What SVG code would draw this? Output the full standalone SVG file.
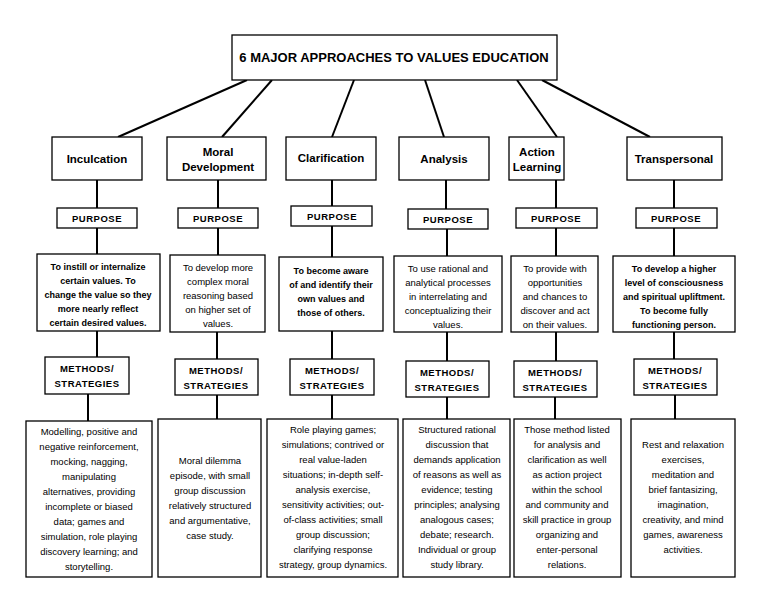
<svg xmlns="http://www.w3.org/2000/svg" width="768" height="594" viewBox="0 0 768 594">
<style>
rect{fill:#fff;stroke:#000;stroke-width:1.3}
.c line{stroke:#000;stroke-width:2}
text{font-family:"Liberation Sans",Arial,sans-serif;text-anchor:middle;fill:#000}
.t{font-size:13px;font-weight:bold}
.h{font-size:11.5px;font-weight:bold}
.p{font-size:9.5px;font-weight:bold;letter-spacing:0.5px}
.b{font-size:9.5px}
.bb{font-size:9px;font-weight:bold}
</style>
<g class="c">
<line x1="247" y1="80" x2="118" y2="137"/><line x1="272" y1="80" x2="222" y2="137"/>
<line x1="354" y1="80" x2="332" y2="137"/><line x1="425" y1="80" x2="444" y2="137"/>
<line x1="517" y1="80" x2="557" y2="137"/><line x1="542" y1="80" x2="650" y2="137"/>
<line x1="97" y1="180" x2="97" y2="208"/><line x1="97" y1="228" x2="97" y2="254"/>
<line x1="97" y1="331" x2="97" y2="357"/><line x1="88" y1="394" x2="88" y2="421"/>
<line x1="218" y1="180" x2="218" y2="208"/><line x1="218" y1="228" x2="218" y2="255"/>
<line x1="217" y1="332" x2="217" y2="359"/><line x1="217" y1="395" x2="217" y2="419"/>
<line x1="332" y1="180" x2="332" y2="206"/><line x1="332" y1="226" x2="332" y2="257"/>
<line x1="332" y1="331" x2="332" y2="359"/><line x1="332" y1="395" x2="332" y2="419"/>
<line x1="446" y1="180" x2="446" y2="209"/><line x1="447" y1="229" x2="447" y2="256"/>
<line x1="447" y1="332" x2="447" y2="361"/><line x1="447" y1="397" x2="447" y2="419"/>
<line x1="556" y1="180" x2="556" y2="208"/><line x1="556" y1="228" x2="556" y2="256"/>
<line x1="556" y1="332" x2="556" y2="361"/><line x1="555" y1="397" x2="555" y2="419"/>
<line x1="674" y1="180" x2="674" y2="208"/><line x1="674" y1="228" x2="674" y2="256"/>
<line x1="674" y1="332" x2="674" y2="359"/><line x1="675" y1="395" x2="675" y2="419"/>
</g>
<g id="title"><rect x="232" y="35" width="325" height="45"/><text class="t" x="394" y="62">6 MAJOR APPROACHES TO VALUES EDUCATION</text></g>
<g id="inculcation"><rect x="52" y="137" width="90" height="43"/><text class="h" x="97" y="163">Inculcation</text></g>
<g id="moral"><rect x="167" y="137" width="99" height="43"/><text class="h" x="218" y="156">Moral</text><text class="h" x="218" y="171">Development</text></g>
<g id="clarification"><rect x="286" y="137" width="90" height="43"/><text class="h" x="331" y="162">Clarification</text></g>
<g id="analysis"><rect x="399" y="137" width="90" height="43"/><text class="h" x="444" y="163">Analysis</text></g>
<g id="action"><rect x="509" y="137" width="55" height="43"/><text class="h" x="537" y="156">Action</text><text class="h" x="537" y="171">Learning</text></g>
<g id="transpersonal"><rect x="627" y="137" width="95" height="43"/><text class="h" x="674" y="163">Transpersonal</text></g>

<g id="p1"><rect x="57" y="208" width="80" height="20"/><text class="p" x="97" y="222">PURPOSE</text></g>
<g id="p2"><rect x="178" y="208" width="80" height="20"/><text class="p" x="218" y="222">PURPOSE</text></g>
<g id="p3"><rect x="291" y="206" width="81" height="20"/><text class="p" x="332" y="220">PURPOSE</text></g>
<g id="p4"><rect x="408" y="209" width="80" height="20"/><text class="p" x="448" y="223">PURPOSE</text></g>
<g id="p5"><rect x="516" y="208" width="81" height="20"/><text class="p" x="556" y="222">PURPOSE</text></g>
<g id="p6"><rect x="636" y="208" width="81" height="20"/><text class="p" x="676" y="222">PURPOSE</text></g>

<g id="pt1"><rect x="37" y="254" width="123" height="77"/>
<text class="bb" x="98" y="270">To instill or internalize</text><text class="bb" x="98" y="284">certain values. To</text><text class="bb" x="98" y="298">change the value so they</text><text class="bb" x="98" y="312">more nearly reflect</text><text class="bb" x="98" y="326">certain desired values.</text></g>
<g id="pt2"><rect x="170" y="255" width="95" height="77"/>
<text class="b" x="218" y="271">To develop more</text><text class="b" x="218" y="285">complex moral</text><text class="b" x="218" y="299">reasoning based</text><text class="b" x="218" y="313">on higher set of</text><text class="b" x="218" y="327">values.</text></g>
<g id="pt3"><rect x="279" y="257" width="104" height="74"/>
<text class="bb" x="331" y="274">To become aware</text><text class="bb" x="331" y="288">of and identify their</text><text class="bb" x="331" y="302">own values and</text><text class="bb" x="331" y="316">those of others.</text></g>
<g id="pt4"><rect x="394" y="256" width="108" height="76"/>
<text class="b" x="448" y="272">To use rational and</text><text class="b" x="448" y="286">analytical processes</text><text class="b" x="448" y="300">in interrelating and</text><text class="b" x="448" y="314">conceptualizing their</text><text class="b" x="448" y="328">values.</text></g>
<g id="pt5"><rect x="511" y="256" width="87" height="76"/>
<text class="b" x="555" y="272">To provide with</text><text class="b" x="555" y="286">opportunities</text><text class="b" x="555" y="300">and chances to</text><text class="b" x="555" y="314">discover and act</text><text class="b" x="555" y="328">on their values.</text></g>
<g id="pt6"><rect x="613" y="256" width="122" height="76"/>
<text class="bb" x="674" y="272">To develop a higher</text><text class="bb" x="674" y="286">level of consciousness</text><text class="bb" x="674" y="300">and spiritual upliftment.</text><text class="bb" x="674" y="314">To become fully</text><text class="bb" x="674" y="328">functioning person.</text></g>

<g id="m1"><rect x="45" y="357" width="84" height="37"/><text class="p" x="87" y="372">METHODS/</text><text class="p" x="87" y="387">STRATEGIES</text></g>
<g id="m2"><rect x="175" y="359" width="83" height="36"/><text class="p" x="216" y="374">METHODS/</text><text class="p" x="216" y="389">STRATEGIES</text></g>
<g id="m3"><rect x="290" y="359" width="84" height="36"/><text class="p" x="332" y="374">METHODS/</text><text class="p" x="332" y="389">STRATEGIES</text></g>
<g id="m4"><rect x="406" y="361" width="83" height="36"/><text class="p" x="447" y="376">METHODS/</text><text class="p" x="447" y="391">STRATEGIES</text></g>
<g id="m5"><rect x="514" y="361" width="83" height="36"/><text class="p" x="555" y="376">METHODS/</text><text class="p" x="555" y="391">STRATEGIES</text></g>
<g id="m6"><rect x="634" y="359" width="83" height="36"/><text class="p" x="675" y="374">METHODS/</text><text class="p" x="675" y="389">STRATEGIES</text></g>

<g id="s1"><rect x="26" y="421" width="126" height="156"/>
<text class="b" x="89" y="435">Modelling, positive and</text><text class="b" x="89" y="450">negative reinforcement,</text><text class="b" x="89" y="465">mocking, nagging,</text><text class="b" x="89" y="480">manipulating</text><text class="b" x="89" y="495">alternatives, providing</text><text class="b" x="89" y="510">incomplete or biased</text><text class="b" x="89" y="525">data; games and</text><text class="b" x="89" y="540">simulation, role playing</text><text class="b" x="89" y="555">discovery learning; and</text><text class="b" x="89" y="570">storytelling.</text></g>
<g id="s2"><rect x="158" y="419" width="103" height="158"/>
<text class="b" x="210" y="464">Moral dilemma</text><text class="b" x="210" y="479">episode, with small</text><text class="b" x="210" y="494">group discussion</text><text class="b" x="210" y="509">relatively structured</text><text class="b" x="210" y="524">and argumentative,</text><text class="b" x="210" y="539">case study.</text></g>
<g id="s3"><rect x="267" y="419" width="131" height="158"/>
<text class="b" x="333" y="433">Role playing games;</text><text class="b" x="333" y="448">simulations; contrived or</text><text class="b" x="333" y="463">real value-laden</text><text class="b" x="333" y="478">situations; in-depth self-</text><text class="b" x="333" y="493">analysis exercise,</text><text class="b" x="333" y="508">sensitivity activities; out-</text><text class="b" x="333" y="523">of-class activities; small</text><text class="b" x="333" y="538">group discussion;</text><text class="b" x="333" y="553">clarifying response</text><text class="b" x="333" y="568">strategy, group dynamics.</text></g>
<g id="s4"><rect x="403" y="419" width="107" height="158"/>
<text class="b" x="457" y="433">Structured rational</text><text class="b" x="457" y="448">discussion that</text><text class="b" x="457" y="463">demands application</text><text class="b" x="457" y="478">of reasons as well as</text><text class="b" x="457" y="493">evidence; testing</text><text class="b" x="457" y="508">principles; analysing</text><text class="b" x="457" y="523">analogous cases;</text><text class="b" x="457" y="538">debate; research.</text><text class="b" x="457" y="553">Individual or group</text><text class="b" x="457" y="568">study library.</text></g>
<g id="s5"><rect x="514" y="419" width="107" height="158"/>
<text class="b" x="567" y="433">Those method listed</text><text class="b" x="567" y="448">for analysis and</text><text class="b" x="567" y="463">clarification as well</text><text class="b" x="567" y="478">as action project</text><text class="b" x="567" y="493">within the school</text><text class="b" x="567" y="508">and community and</text><text class="b" x="567" y="523">skill practice in group</text><text class="b" x="567" y="538">organizing and</text><text class="b" x="567" y="553">enter-personal</text><text class="b" x="567" y="568">relations.</text></g>
<g id="s6"><rect x="631" y="419" width="104" height="158"/>
<text class="b" x="683" y="448">Rest and relaxation</text><text class="b" x="683" y="463">exercises,</text><text class="b" x="683" y="478">meditation and</text><text class="b" x="683" y="493">brief fantasizing,</text><text class="b" x="683" y="508">imagination,</text><text class="b" x="683" y="523">creativity, and mind</text><text class="b" x="683" y="538">games, awareness</text><text class="b" x="683" y="553">activities.</text></g>
</svg>
